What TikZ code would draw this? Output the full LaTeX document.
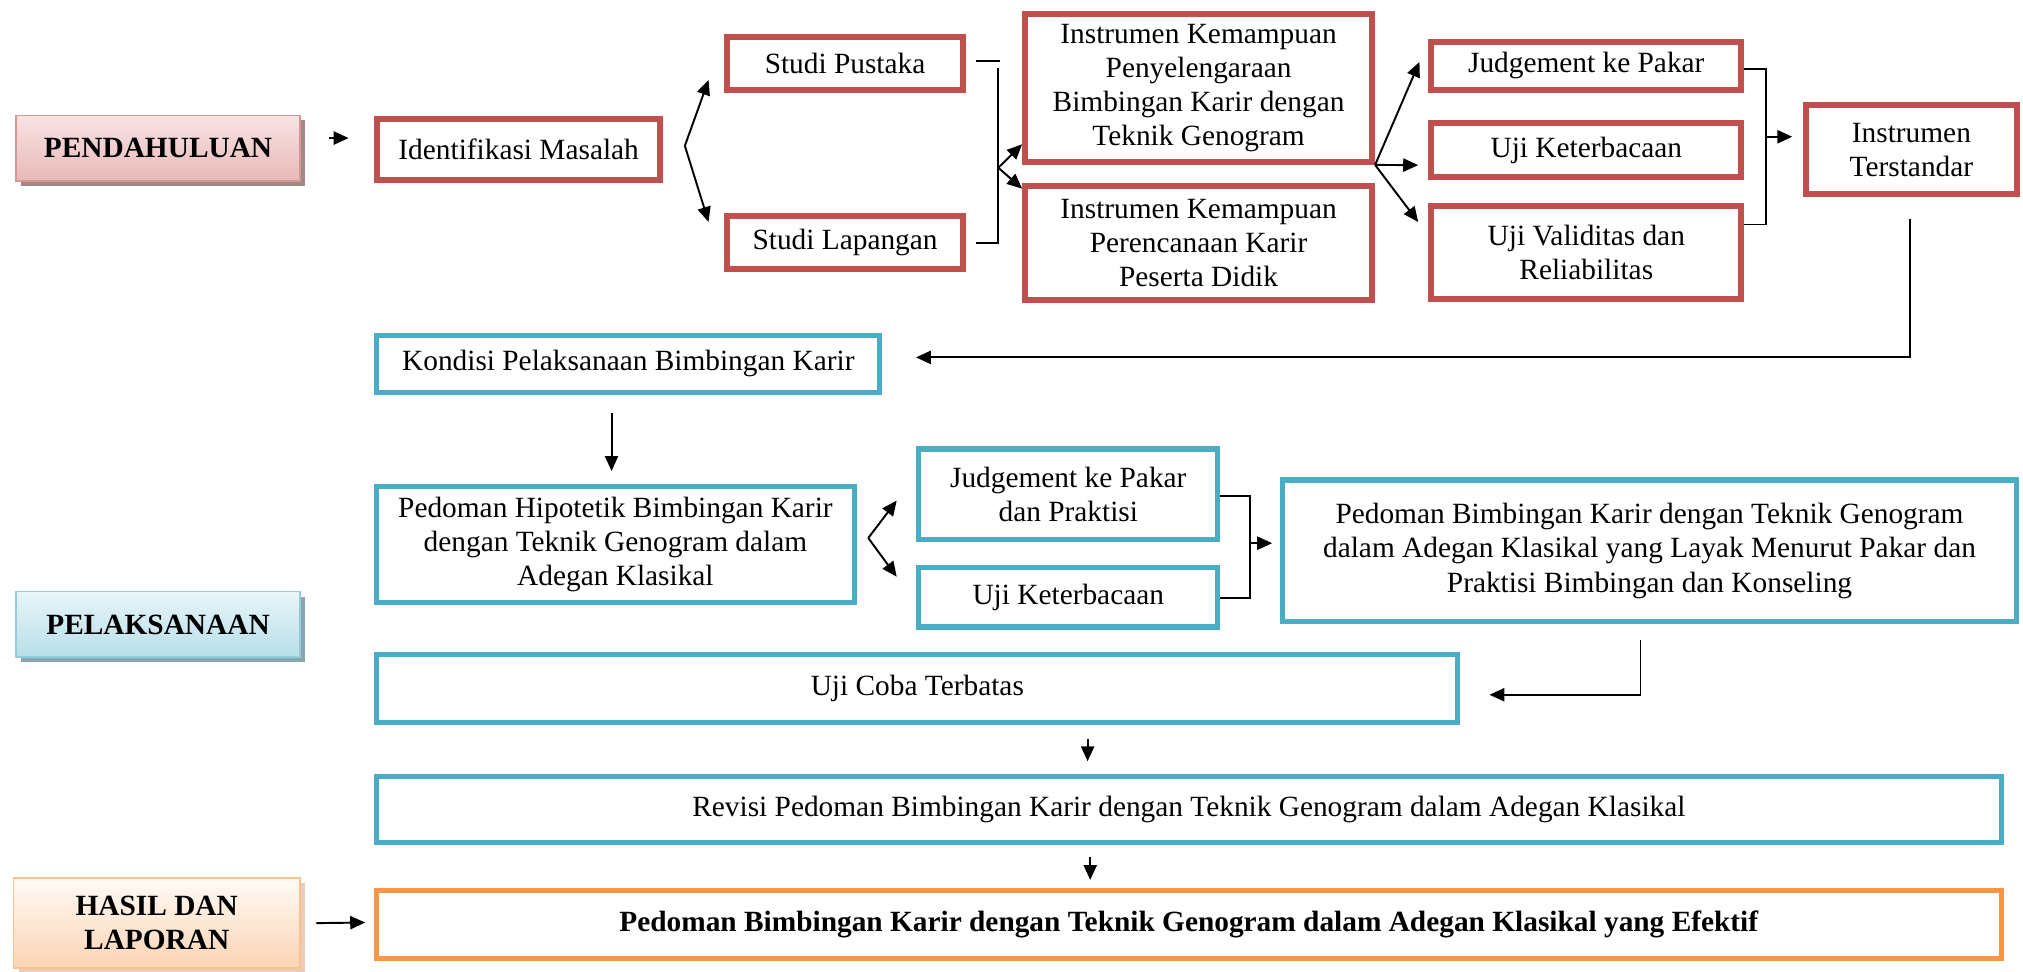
\documentclass[tikz,border=0pt]{standalone}
\usepackage{fontspec}
\setmainfont{Liberation Serif}
\usepackage{xcolor}
\usepackage{tikz}
\usetikzlibrary{arrows.meta, shadows}
\definecolor{boxred}{HTML}{C0504D}
\definecolor{boxblue}{HTML}{4BACC6}
\definecolor{boxorange}{HTML}{F79646}
\definecolor{pinktop}{HTML}{F9E3E3}
\definecolor{pinkbot}{HTML}{E6B9B8}
\definecolor{pinkline}{HTML}{D99694}
\definecolor{pinkshade}{HTML}{A08989}
\definecolor{bluetop}{HTML}{E8F5F9}
\definecolor{bluebot}{HTML}{B7DEE8}
\definecolor{blueline}{HTML}{93CDDD}
\definecolor{blueshade}{HTML}{88A6AF}
\definecolor{orangetop}{HTML}{FFFAF5}
\definecolor{orangebot}{HTML}{FBD4B4}
\definecolor{orangeline}{HTML}{FAC090}
\definecolor{orangeshade}{HTML}{E8CDB8}
\newcommand{\pxu}{0.0258cm}

\begin{document}
\begin{tikzpicture}[x=0.0258cm, y=-0.0258cm,
		every node/.style={font=\fontsize{16.7}{19.4}\selectfont, align=center, inner sep=0pt},
		redbox/.style={draw=boxred, line width=3.4pt, fill=white},
		bluebox/.style={draw=boxblue, line width=2.9pt, fill=white},
		orangebox/.style={draw=boxorange, line width=2.9pt, fill=white},
		stage/.style={line width=1pt, font=\fontsize{16.7}{19.4}\selectfont\bfseries, minimum width=220*\pxu},
		arr/.style={-{Triangle[length=8.5pt, width=7.5pt]}, line width=1.1pt},
		link/.style={line width=1.1pt}]
		\useasboundingbox (0,0) rectangle (1568,753);

		% stages on the left
		\node[stage, draw=pinkline, top color=pinktop, bottom color=pinkbot, minimum height=51*\pxu,
			drop shadow={opacity=1, fill=pinkshade, shadow xshift=0.1cm, shadow yshift=-0.1cm}]
			(pendahuluan) at (122.5,115) {PENDAHULUAN};
		\node[stage, draw=blueline, top color=bluetop, bottom color=bluebot, minimum height=51*\pxu,
			drop shadow={opacity=1, fill=blueshade, shadow xshift=0.1cm, shadow yshift=-0.1cm}]
			(pelaksanaan) at (122.5,484) {PELAKSANAAN};
		\node[stage, draw=orangeline, top color=orangetop, bottom color=orangebot, minimum width=222*\pxu, minimum height=70*\pxu,
			drop shadow={opacity=1, fill=orangeshade, shadow xshift=0.1cm, shadow yshift=-0.1cm}]
			(hasil) at (121.5,715.5) {HASIL DAN\\ LAPORAN};

		% pendahuluan
		\node[redbox, minimum width=219*\pxu, minimum height=47*\pxu] (ident) at (402,116) {Identifikasi Masalah};
		\node[redbox, minimum width=183*\pxu, minimum height=41*\pxu] (pustaka) at (655,49) {Studi Pustaka};
		\node[redbox, minimum width=183*\pxu, minimum height=41*\pxu] (lapangan) at (655,188) {Studi Lapangan};
		\node[redbox, minimum width=269*\pxu, minimum height=115*\pxu] (penyel) at (929,68)
			{Instrumen Kemampuan\\ Penyelengaraan\\ Bimbingan Karir dengan\\ Teknik Genogram};
		\node[redbox, minimum width=269*\pxu, minimum height=88*\pxu] (perenc) at (929,188.5)
			{Instrumen Kemampuan\\ Perencanaan Karir\\ Peserta Didik};
		\node[redbox, minimum width=240*\pxu, minimum height=37*\pxu] (judg1) at (1229.5,51) {Judgement ke Pakar};
		\node[redbox, minimum width=240*\pxu, minimum height=42*\pxu] (keterb1) at (1229.5,116.5) {Uji Keterbacaan};
		\node[redbox, minimum width=240*\pxu, minimum height=72*\pxu] (validitas) at (1229.5,195.5)
			{Uji Validitas dan\\ Reliabilitas};
		\node[redbox, minimum width=164*\pxu, minimum height=69*\pxu] (terstandar) at (1481.5,116)
			{Instrumen\\ Terstandar};

		% pelaksanaan
		\node[bluebox, minimum width=390*\pxu, minimum height=44*\pxu] (kondisi) at (487,282)
			{Kondisi Pelaksanaan Bimbingan Karir};
		\node[bluebox, minimum width=370*\pxu, minimum height=90*\pxu] (hipotetik) at (477,422)
			{Pedoman Hipotetik Bimbingan Karir\\ dengan Teknik Genogram dalam\\ Adegan Klasikal};
		\node[bluebox, minimum width=232*\pxu, minimum height=70*\pxu] (judg2) at (828,383)
			{Judgement ke Pakar\\ dan Praktisi};
		\node[bluebox, minimum width=232*\pxu, minimum height=46*\pxu] (keterb2) at (828,463) {Uji Keterbacaan};
		\node[bluebox, minimum width=569*\pxu, minimum height=110*\pxu] (layak) at (1278.5,427)
			{Pedoman Bimbingan Karir dengan Teknik Genogram\\ dalam Adegan Klasikal yang Layak Menurut Pakar dan\\ Praktisi Bimbingan dan Konseling};
		\node[bluebox, minimum width=838*\pxu, minimum height=53*\pxu] (ujicoba) at (711,533.5) {Uji Coba Terbatas};
		\node[bluebox, minimum width=1259*\pxu, minimum height=51*\pxu] (revisi) at (921.5,627.5)
			{Revisi Pedoman Bimbingan Karir dengan Teknik Genogram dalam Adegan Klasikal};

		% hasil
		\node[orangebox, minimum width=1259*\pxu, minimum height=53*\pxu] (efektif) at (921.5,716.5)
			{\textbf{Pedoman Bimbingan Karir dengan Teknik Genogram dalam Adegan Klasikal yang Efektif}};

		% connectors, top row
		\draw[arr] ([shift={(22,-8)}]pendahuluan.east) -- ([shift={(-20,-9)}]ident.west);
		\coordinate (split1) at ([shift={(17,-3)}]ident.east);
		\draw[arr] (split1) -- ([shift={(-12,13)}]pustaka.west);
		\draw[arr] (split1) -- ([shift={(-12,-16)}]lapangan.west);

		\draw[link] ([shift={(8,-2)}]pustaka.east) -- ++(18,0);
		\draw[link] ([shift={(8,0)}]lapangan.east) -| ([shift={(25,4)}]pustaka.east);
		\coordinate (join1) at ([shift={(25,-58)}]lapangan.east);
		\draw[arr] (join1) -- ([shift={(0,-16)}]penyel.south west);
		\draw[arr] (join1) -- ([shift={(0,4)}]perenc.north west);

		\coordinate (split2) at (penyel.south east);
		\draw[arr] (split2) -- ([shift={(-7,-3)}]judg1.west);
		\draw[arr] (split2) -- ([shift={(-8,11.5)}]keterb1.west);
		\draw[arr] (split2) -- ([shift={(-8,-23.5)}]validitas.west);

		\draw[link] ([shift={(0,2.5)}]judg1.east) -| ([shift={(17,-21.5)}]validitas.east) -- ([shift={(0,-21.5)}]validitas.east);
		\coordinate (join2) at ([shift={(17,-89.5)}]validitas.east);
		\draw[arr] (join2) -- ([shift={(-8,-10)}]terstandar.west);

		\draw[arr] ([shift={(-1,17)}]terstandar.south) |- ([shift={(26,-5)}]kondisi.east);

		% connectors, middle
		\draw[arr] ([shift={(-13,14)}]kondisi.south) -- ([shift={(-3,-10)}]hipotetik.north);
		\coordinate (split3) at ([shift={(9,-5)}]hipotetik.east);
		\draw[arr] (split3) -- ([shift={(-15,5)}]judg2.west);
		\draw[arr] (split3) -- ([shift={(-15,-16)}]keterb2.west);

		\draw[link] ([shift={(0,1.5)}]judg2.east) -| ([shift={(23,0.5)}]keterb2.east) -- ([shift={(0,0.5)}]keterb2.east);
		\coordinate (join3) at ([shift={(23,-42)}]keterb2.east);
		\draw[arr] (join3) -- ([shift={(-6,-6)}]layak.west);

		\draw[arr] ([shift={(-7,12)}]layak.south) |- ([shift={(22.5,5)}]ujicoba.east);
		\draw[arr] ([shift={(132,11)}]ujicoba.south) -- ([shift={(-78.5,-10)}]revisi.north);
		\draw[arr] ([shift={(-76.5,9)}]revisi.south) -- ([shift={(-76.5,-6)}]efektif.north);
		\draw[arr] ([shift={(12,0)}]hasil.east) -- ([shift={(-7,-1.5)}]efektif.west);
	\end{tikzpicture}
\end{document}
